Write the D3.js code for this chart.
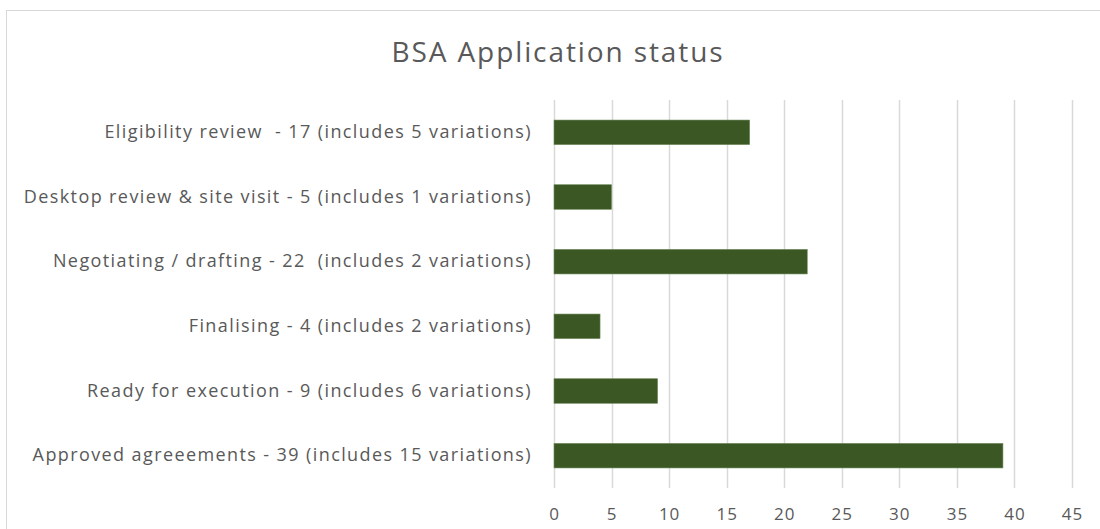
<!DOCTYPE html>
<html>
<head>
<meta charset="utf-8">
<script src="https://cdn.jsdelivr.net/npm/d3@7"></script>
<style>
  body { margin: 0; background: #fff; }
  text { font-family: "Open Sans", sans-serif; fill: #595959; white-space: pre; }
</style>
</head>
<body>
<div id="chart"></div>
<script>
// chart data
var categories = [
    "Eligibility review  - 17 (includes 5 variations)",
    "Desktop review & site visit - 5 (includes 1 variations)",
    "Negotiating / drafting - 22  (includes 2 variations)",
    "Finalising - 4 (includes 2 variations)",
    "Ready for execution - 9 (includes 6 variations)",
    "Approved agreeements - 39 (includes 15 variations)"
];
var values = [17, 5, 22, 4, 9, 39];
var xTicks = [0, 5, 10, 15, 20, 25, 30, 35, 40, 45];
var title = "BSA Application status";

var W = 1100, H = 529;
var margin = {top: 100, right: 28, bottom: 41, left: 554};
var width = W - margin.left - margin.right,
    height = H - margin.top - margin.bottom;

var svg = d3.select("#chart")
    .append("svg")
        .attr("width", W)
        .attr("height", H);

// outer chart border
svg.append("rect")
    .attr("x", 6.5).attr("y", 10.5)
    .attr("width", W).attr("height", H)
    .attr("fill", "none")
    .attr("stroke", "#d9d9d9");

svg.append("text")
    .attr("x", 558).attr("y", 62)
    .attr("text-anchor", "middle")
    .style("font-size", "28px")
    .style("letter-spacing", "1.9px")
    .text(title);

var g = svg.append("g")
    .attr("transform", "translate(" + margin.left + "," + margin.top + ")");

var xScale = d3.scaleLinear().domain([0, 45]).range([0, width]);
var yScale = d3.scaleBand().domain(categories).range([0, height]).paddingInner(0.62).paddingOuter(0.31);

// gridlines
g.selectAll(".grid")
    .data(xTicks)
    .enter().append("line")
        .attr("class", "grid")
        .attr("x1", function(d) { return Math.round(xScale(d)) + 0.5; })
        .attr("x2", function(d) { return Math.round(xScale(d)) + 0.5; })
        .attr("y1", 0).attr("y2", height)
        .attr("stroke", "#d9d9d9")
        .attr("stroke-width", 1.5);

// bars
g.selectAll(".bar")
    .data(values)
    .enter().append("rect")
        .attr("class", "bar")
        .attr("x", xScale(0))
        .attr("y", function(d, i) { return yScale(categories[i]); })
        .attr("width", function(d) { return xScale(d) - xScale(0); })
        .attr("height", yScale.bandwidth())
        .attr("fill", "#3a5724")
        .attr("stroke", "#6f8a5c")
        .attr("stroke-width", 0.6);

// x axis
var xAxis = d3.axisBottom(xScale).tickValues(xTicks).tickSize(0).tickPadding(20);
var xg = g.append("g")
    .attr("transform", "translate(0," + height + ")")
    .call(xAxis);
xg.select(".domain").remove();
xg.selectAll("text").style("font-size", "17px").style("letter-spacing", "1px").attr("fill", "#595959");

// y axis
var yAxis = d3.axisLeft(yScale).tickSize(0).tickPadding(22);
var yg = g.append("g").call(yAxis);
yg.select(".domain").remove();
yg.selectAll("text").style("font-size", "18px").style("letter-spacing", "1.4px").attr("fill", "#595959");
</script>
</body>
</html>
